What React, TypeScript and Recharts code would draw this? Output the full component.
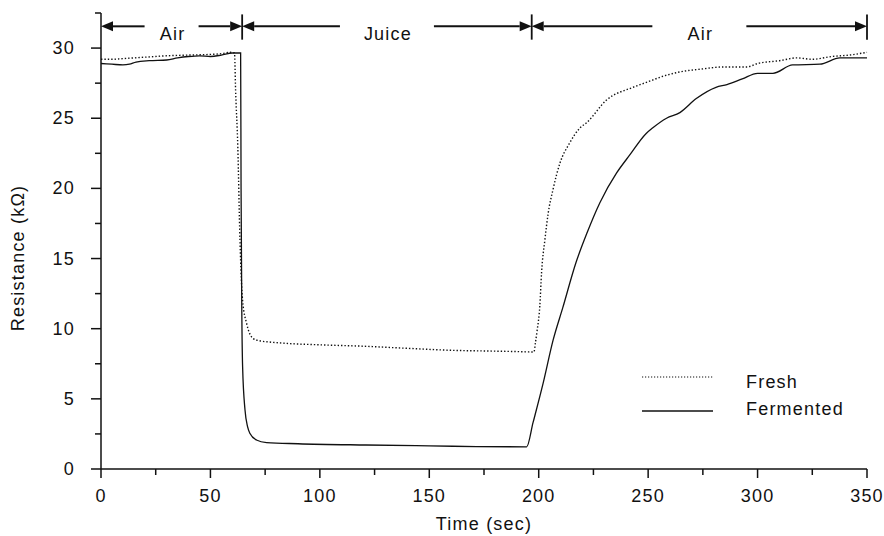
import React from 'react'
import { LineChart, Line, XAxis, YAxis, ReferenceLine, Legend } from 'recharts'

// Fresh juice sensor response (time in sec, resistance in kOhm)
const freshTime = [
  0, 5, 10, 15, 20, 30, 40, 50, 55, 59, 61, 61.5, 62.5, 63.5, 64.7, 66.5, 69.5, 73, 77, 85,
  100, 120, 140, 160, 180, 190, 197.8, 198.5, 199.3, 200.5, 201.3, 202.8, 204.3, 206.5, 209.7,
  214, 218.8, 222, 231, 243, 250, 257, 264.5, 274, 284, 295, 300, 310, 318, 325, 334, 342, 350,
]
const freshRes = [
  29.2, 29.2, 29.25, 29.3, 29.35, 29.45, 29.5, 29.55, 29.6, 29.7, 29.65, 27, 23, 16.3, 12, 10.4,
  9.3, 9.12, 9.05, 8.95, 8.85, 8.75, 8.6, 8.46, 8.4, 8.37, 8.34, 9.0, 9.9, 11.6, 14, 16.3, 18.2,
  19.9, 21.8, 23.2, 24.3, 24.7, 26.3, 27.2, 27.6, 28.0, 28.3, 28.5, 28.65, 28.65, 28.9, 29.1,
  29.3, 29.2, 29.4, 29.5, 29.7,
]

// Fermented juice sensor response
const fermTime = [
  0, 5, 10, 13, 16, 22, 30, 35, 40, 45, 50, 55, 60, 63.8, 64, 64.3, 64.7, 65.8, 67, 68, 71,
  75.7, 90, 121, 150, 171.6, 194.5, 197.4, 202, 206.6, 211, 217, 222, 228, 235.6, 241.7, 249,
  252, 258.4, 264.5, 272, 281, 286, 293, 300, 307, 316, 328.5, 337.6, 350,
]
const fermRes = [
  28.9, 28.85, 28.8, 28.85, 29.0, 29.1, 29.15, 29.3, 29.4, 29.45, 29.4, 29.5, 29.65, 29.65, 20,
  12, 7.3, 4.2, 3.0, 2.55, 2.07, 1.88, 1.8, 1.71, 1.65, 1.6, 1.58, 3.3, 6.1, 9.2, 11.5, 14.7,
  16.8, 19, 21.1, 22.4, 23.9, 24.3, 25.0, 25.4, 26.4, 27.2, 27.4, 27.8, 28.2, 28.2, 28.8, 28.85,
  29.3, 29.3,
]

const seriesNames = ['Fresh', 'Fermented']

const xTicks = [0, 25, 50, 75, 100, 125, 150, 175, 200, 225, 250, 275, 300, 325, 350]
const yTicks = [0, 2.5, 5, 7.5, 10, 12.5, 15, 17.5, 20, 22.5, 25, 27.5, 30, 32.5]

const phaseLabels = ['Air', 'Juice', 'Air']
const phaseBounds = [0, 64.5, 196.8, 350]

const freshData = freshTime.map((t, i) => ({ t, r: freshRes[i] }))
const fermData = fermTime.map((t, i) => ({ t, r: fermRes[i] }))

const FONT = '"Liberation Sans", Arial, sans-serif'
const INK = '#111'
const textStyle = { fontFamily: FONT, fontSize: 18, letterSpacing: 1.2, fill: INK }
const FRESH_DASH = '1.4 2'

// where the arrows sit, in data units
const ARROW_Y = 31.55
const BAR_LOW = 30.6
const BAR_HIGH = 32.4
const phaseGaps = [27, 47, 47]

const XTick = (props: any) => {
  const { x, y, payload } = props
  const major = payload.value % 50 === 0
  return (
    <g>
      <line x1={x} y1={y} x2={x} y2={y + (major ? 9 : 6)} stroke={INK} strokeWidth={1.5} />
      {major && (
        <text x={x} y={y + 27} textAnchor="middle" dominantBaseline="central" style={textStyle}>
          {payload.value}
        </text>
      )}
    </g>
  )
}

const YTick = (props: any) => {
  const { x, y, payload } = props
  const major = payload.value % 5 === 0
  return (
    <g>
      <line x1={x - (major ? 10 : 6)} y1={y} x2={x} y2={y} stroke={INK} strokeWidth={1.5} />
      {major && (
        <text x={x - 26} y={y} textAnchor="end" dominantBaseline="central" style={textStyle}>
          {payload.value}
        </text>
      )}
    </g>
  )
}

const makeArrow = (label: string, gap: number) => (props: any) => {
  const { x1, y1, x2 } = props
  const y = y1
  const mid = (x1 + x2) / 2
  const head = 12
  const hh = 5
  return (
    <g>
      <line x1={x1 + head} y1={y} x2={mid - gap} y2={y} stroke={INK} strokeWidth={2} />
      <line x1={mid + gap} y1={y} x2={x2 - head} y2={y} stroke={INK} strokeWidth={2} />
      <polygon points={`${x1},${y} ${x1 + head},${y - hh} ${x1 + head},${y + hh}`} fill={INK} />
      <polygon points={`${x2},${y} ${x2 - head},${y - hh} ${x2 - head},${y + hh}`} fill={INK} />
      <text x={mid + 1} y={y + 8} textAnchor="middle" dominantBaseline="central" style={textStyle}>
        {label}
      </text>
    </g>
  )
}

// legend drawn in the same order as the reference: Fresh on top
const LegendBox = () => (
  <svg width={240} height={64}>
    {seriesNames.map((name, i) => {
      const ly = i === 0 ? 15 : 49
      const ty = i === 0 ? 20 : 46.5
      return (
        <g key={name}>
          <line
            x1={12}
            y1={ly}
            x2={83}
            y2={ly}
            stroke={INK}
            strokeWidth={i === 0 ? 1.2 : 1.4}
            strokeDasharray={i === 0 ? '1.2 1.8' : undefined}
          />
          <text x={116} y={ty} dominantBaseline="central" style={textStyle}>
            {name}
          </text>
        </g>
      )
    })}
  </svg>
)

export default function App() {
  return (
    <div>
      <style>{'body{margin:0}'}</style>
      <LineChart width={884} height={536} margin={{ top: 13, right: 17, bottom: 0, left: 0 }}>
        <XAxis
          dataKey="t"
          type="number"
          domain={[0, 350]}
          ticks={xTicks}
          interval={0}
          height={67}
          tickSize={0}
          tickMargin={0}
          tickLine={false}
          tick={<XTick />}
          axisLine={{ stroke: INK, strokeWidth: 1.5 }}
          label={(p: any) => {
            const vb = p.viewBox || { x: 101, width: 766 }
            return (
              <text x={vb.x + vb.width / 2} y={524} textAnchor="middle" dominantBaseline="central" style={textStyle}>
                Time (sec)
              </text>
            )
          }}
        />
        <YAxis
          type="number"
          domain={[0, 32.5]}
          ticks={yTicks}
          interval={0}
          width={101}
          tickSize={0}
          tickMargin={0}
          tickLine={false}
          tick={<YTick />}
          axisLine={{ stroke: INK, strokeWidth: 1.5 }}
          label={() => (
            <text
              x={18}
              y={258}
              textAnchor="middle"
              dominantBaseline="central"
              transform="rotate(-90 18 258)"
              style={textStyle}
            >
              Resistance (kΩ)
            </text>
          )}
        />
        {phaseLabels.map((lab, i) => (
          <ReferenceLine
            key={'ph' + i}
            segment={[
              { x: phaseBounds[i], y: ARROW_Y },
              { x: phaseBounds[i + 1], y: ARROW_Y },
            ]}
            shape={makeArrow(lab, phaseGaps[i])}
          />
        ))}
        {phaseBounds.slice(1).map((b) => (
          <ReferenceLine
            key={'bar' + b}
            segment={[
              { x: b, y: BAR_LOW },
              { x: b, y: BAR_HIGH },
            ]}
            stroke={INK}
            strokeWidth={1.8}
          />
        ))}
        <Line
          data={freshData}
          dataKey="r"
          name={seriesNames[0]}
          type="monotone"
          stroke={INK}
          strokeWidth={1.4}
          strokeDasharray={FRESH_DASH}
          dot={false}
          isAnimationActive={false}
        />
        <Line
          data={fermData}
          dataKey="r"
          name={seriesNames[1]}
          type="monotone"
          stroke={INK}
          strokeWidth={1.3}
          dot={false}
          isAnimationActive={false}
        />
        <Legend
          layout="horizontal"
          verticalAlign="middle"
          align="center"
          wrapperStyle={{ position: 'absolute', left: 630, top: 362, width: 240, height: 64 }}
          content={<LegendBox />}
        />
      </LineChart>
    </div>
  )
}
